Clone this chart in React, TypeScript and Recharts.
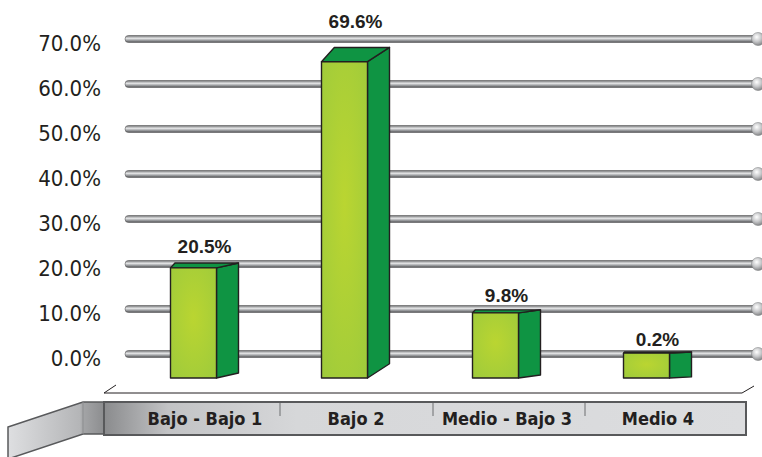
import React from 'react';
import { ComposedChart, Bar, Line, XAxis, YAxis, CartesianGrid, LabelList } from 'recharts';

const categories = ['Bajo - Bajo 1', 'Bajo  2', 'Medio - Bajo 3', 'Medio 4'];
const shares = [20.5, 69.6, 9.8, 0.2];
const yTicks = [0, 10, 20, 30, 40, 50, 60, 70];

const data = categories.map((name, i) => ({ name, share: shares[i] }));

const WIDTH = 762;
const HEIGHT = 457;
const PIPE_LEFT = 125;
const PIPE_RIGHT = 757;
const LABEL_RIGHT = 101;
const SIDE_DEPTH = 22;
const BASE_DROP = 24;
const TEXT = '#231f20';
const NARROW = '"Liberation Sans Narrow", "DejaVu Sans Condensed", "Roboto Condensed", Arial, sans-serif';

// perspective rise of the side face grows with the bar height
const riseFor = (h: number) => h * 0.045;

function Pipe(props: any) {
  const { y1 } = props;
  return (
    <g key={props.key}>
      <rect x={PIPE_LEFT} y={y1 - 3.5} width={PIPE_RIGHT - PIPE_LEFT} height={7} rx={3.5} fill="url(#pipeGrad)" stroke="#5a5a5c" strokeWidth={0.6} />
      <circle cx={PIPE_RIGHT + 1} cy={y1} r={6.5} fill="url(#ballGrad)" stroke="#77787a" strokeWidth={0.5} />
    </g>
  );
}

function Box3D(props: any) {
  const { x, y, width, height } = props;
  if (x == null || y == null) return null;
  const bottom = y + height + BASE_DROP;
  const rise = riseFor(bottom - y);
  const right = x + width;
  const back = right + SIDE_DEPTH;
  const topBack = x + rise * 0.9;
  return (
    <g stroke={TEXT} strokeWidth={1.4} strokeLinejoin="round">
      <polygon points={`${right},${y} ${back},${y - rise} ${back},${bottom - rise} ${right},${bottom}`} fill="#0f9443" />
      <polygon points={`${x},${y} ${topBack},${y - rise} ${back},${y - rise} ${right},${y}`} fill="#0f9443" />
      <rect x={x} y={y} width={width} height={bottom - y} fill="url(#frontGrad)" />
    </g>
  );
}

function ValueLabel(props: any) {
  const { x, y, width, height, value } = props;
  const rise = riseFor(height + BASE_DROP);
  return (
    <text
      x={x + (width + SIDE_DEPTH) / 2}
      y={y - 2 * rise - 5}
      textAnchor="middle"
      fill={TEXT}
      fontFamily='"Liberation Sans", Arial, sans-serif'
      fontWeight={700}
      fontSize={19}
    >
      {`${Number(value).toFixed(1)}%`}
    </text>
  );
}

function YTick(props: any) {
  const { y, payload } = props;
  return (
    <text x={LABEL_RIGHT} y={y + 12} textAnchor="end" fill={TEXT} fontFamily={NARROW} fontSize={22}>
      {`${Number(payload.value).toFixed(1)}%`}
    </text>
  );
}

function XTick(props: any) {
  const { x, payload } = props;
  return (
    <text x={x + 12} y={425} textAnchor="middle" fill={TEXT} fontFamily={NARROW} fontWeight={700} fontSize={18}>
      {payload.value}
    </text>
  );
}

function Floor() {
  return (
    <svg width={WIDTH} height={HEIGHT} style={{ position: 'absolute', left: 0, top: 0 }}>
      <defs>
        <linearGradient id="bandGrad" x1="0" y1="0" x2="1" y2="0">
          <stop offset="0" stopColor="#8a8b8d" />
          <stop offset="0.1" stopColor="#c2c3c5" />
          <stop offset="0.3" stopColor="#d6d7d9" />
          <stop offset="1" stopColor="#dcdddf" />
        </linearGradient>
        <linearGradient id="wingGrad" x1="0" y1="0" x2="1" y2="0">
          <stop offset="0" stopColor="#dedfe1" />
          <stop offset="0.75" stopColor="#b4b5b7" />
          <stop offset="0.78" stopColor="#a4a5a7" />
          <stop offset="1" stopColor="#8c8d8f" />
        </linearGradient>
      </defs>
      <polygon points="8,427 83,402 104,402 104,434 83,434 8,459" fill="url(#wingGrad)" stroke="#58595b" strokeWidth={1.5} />
      <line x1={83} y1={402} x2={83} y2={434} stroke="#8c8d8f" strokeWidth={1} />
      <rect x={104} y={402} width={642} height={33} fill="url(#bandGrad)" stroke="#58595b" strokeWidth={2} />
      {[280, 433, 585].map((sx) => (
        <line key={sx} x1={sx} y1={403} x2={sx} y2={416} stroke="#6d6e70" strokeWidth={1} />
      ))}
      <polyline points="116,385 104,393 742,393 754,386" fill="none" stroke={TEXT} strokeWidth={1} />
    </svg>
  );
}

export default function App() {
  return (
    <div style={{ position: 'absolute', left: 0, top: 0, width: WIDTH, height: HEIGHT, background: '#fff', overflow: 'hidden' }}>
      <Floor />
      <div style={{ position: 'absolute', left: 0, top: 0 }}>
        <ComposedChart
          width={WIDTH}
          height={HEIGHT}
          data={data}
          margin={{ top: 39, right: 40.5, left: 37.5, bottom: 73 }}
          barSize={46}
        >
          <defs>
            <linearGradient id="pipeGrad" x1="0" y1="0" x2="0" y2="1">
              <stop offset="0" stopColor="#6b6c6e" />
              <stop offset="0.4" stopColor="#e6e7e8" />
              <stop offset="0.65" stopColor="#a7a9ac" />
              <stop offset="1" stopColor="#4f5052" />
            </linearGradient>
            <radialGradient id="ballGrad" cx="0.4" cy="0.35" r="0.7">
              <stop offset="0" stopColor="#ffffff" />
              <stop offset="0.5" stopColor="#c7c8ca" />
              <stop offset="1" stopColor="#7d7e80" />
            </radialGradient>
            <radialGradient id="frontGrad" cx="0.5" cy="0.45" r="0.7">
              <stop offset="0" stopColor="#bad531" />
              <stop offset="1" stopColor="#9fcb3b" />
            </radialGradient>
          </defs>
          <CartesianGrid yAxisId="grid" vertical={false} horizontal={(p: any) => <Pipe {...p} />} />
          <XAxis dataKey="name" axisLine={false} tickLine={false} height={30} interval={0} tick={(p: any) => <XTick {...p} />} />
          <YAxis
            yAxisId="grid"
            domain={[0, 70]}
            ticks={yTicks}
            width={80}
            axisLine={false}
            tickLine={false}
            tick={(p: any) => <YTick {...p} />}
          />
          <YAxis yAxisId="bars" hide domain={[0, 75]} />
          {/* keeps the visible percent axis bound to the data */}
          <Line yAxisId="grid" dataKey="share" stroke="none" dot={false} activeDot={false} isAnimationActive={false} />
          <Bar yAxisId="bars" dataKey="share" isAnimationActive={false} shape={(p: any) => <Box3D {...p} />}>
            <LabelList dataKey="share" content={(p: any) => <ValueLabel {...p} />} />
          </Bar>
        </ComposedChart>
      </div>
    </div>
  );
}
